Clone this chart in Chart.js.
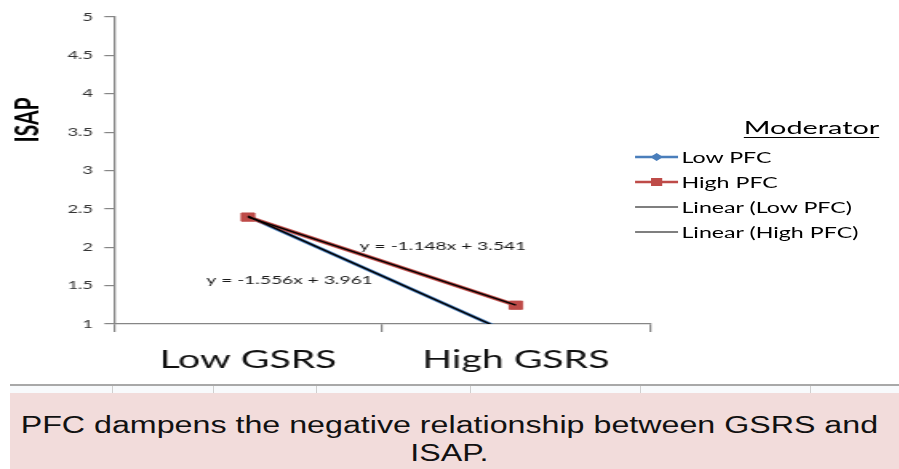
<!DOCTYPE html>
<html>
<head>
<meta charset="utf-8">
<script src="https://cdn.jsdelivr.net/npm/chart.js@4.4.1/dist/chart.umd.min.js"></script>
<style>
  html, body { margin: 0; padding: 0; background: #ffffff; }
  body { width: 899px; height: 469px; position: relative; overflow: hidden; }
  #chartWrap { position: absolute; left: 0; top: 0; width: 562px; height: 384px;
    transform: scaleX(1.5996); transform-origin: 0 0; }
  #legend { position: absolute; left: 0; top: 0; width: 562px; height: 384px; pointer-events: none;
    font-family: Lato, "DejaVu Sans", sans-serif; color: #000; }
  #legendTitle { position: absolute; left: 465px; top: 116px; font-size: 18px; text-decoration: underline;
    text-underline-offset: 3px; line-height: 22px; white-space: nowrap; }
  .legItem { position: absolute; left: 397px; height: 20px; display: flex; align-items: center;
    font-size: 14.5px; white-space: nowrap; }
  .legItem svg { width: 27px; height: 12px; margin-right: 2px; }
  #sep { position: absolute; left: 10px; top: 384px; width: 889px; height: 2px; background: #a8a8a8; }
  .vline { position: absolute; top: 386px; width: 1px; height: 7px; background: #cfcfcf; }
  #strip { position: absolute; left: 10px; top: 386px; width: 889px; height: 7px; background: #f8fafc; }
  #pink { position: absolute; left: 10px; top: 393px; width: 889px; height: 76px; background: #f2dcdb; }
  #caption { position: absolute; left: 0; top: 411px; width: 642px; transform: scaleX(1.4); transform-origin: 0 0;
    text-align: center; font-family: "Liberation Sans", Arial, sans-serif; font-size: 23px; line-height: 28px; color: #111; }
</style>
</head>
<body>
<div id="strip"></div>
<div id="sep"></div>
<div id="pink"></div>
<div id="caption">PFC dampens the negative relationship between GSRS and<br>ISAP.</div>
<div id="chartWrap">
  <canvas id="c"></canvas>
  <div id="legend"></div>
</div>
<script>
// ---- data ----
const categories = ['Low GSRS', 'High GSRS'];
const lowPFC = [2.405, 0.849];
const highPFC = [2.393, 1.245];
const lowPFCTrend = [2.405, 0.849];
const highPFCTrend = [2.393, 1.245];
const seriesNames = ['Low PFC', 'High PFC'];
const trendNames = ['Linear (Low PFC)', 'Linear (High PFC)'];
const equations = ['y = -1.556x + 3.961', 'y = -1.148x + 3.541'];
const equationAnchors = [[0.155, 1.573], [0.728, 2.016]]; // [category index, y value]
const yMin = 1, yMax = 5, yStep = 0.5;
const yTitle = 'ISAP';
const legendTitle = 'Moderator';
const tableDividers = [112, 213, 316, 470, 640, 810];

// ---- styles ----
const BLUE = '#4a7ebb', RED = '#be4b48', AXIS = '#868686';
const FONT = 'Lato, "DejaVu Sans", sans-serif';

tableDividers.forEach(x => {
  const d = document.createElement('div');
  d.className = 'vline'; d.style.left = x + 'px';
  document.body.appendChild(d);
});

const overlayPlugin = {
  id: 'overlay',
  afterDatasetsDraw(chart) {
    const ctx = chart.ctx, xs = chart.scales.x, ys = chart.scales.y;
    ctx.save();
    ctx.fillStyle = '#1a1a1a';
    ctx.font = '12px ' + FONT;
    ctx.textAlign = 'center';
    ctx.textBaseline = 'middle';
    equations.forEach((t, i) => {
      const a = equationAnchors[i];
      ctx.fillText(t, xs.getPixelForValue(a[0]), ys.getPixelForValue(a[1]));
    });
    ctx.restore();
  },
  afterDraw(chart) {
    const ctx = chart.ctx;
    ctx.save();
    ctx.translate(17.5, 120);
    ctx.rotate(-Math.PI / 2);
    ctx.font = 'bold 21px ' + FONT;
    ctx.fillStyle = '#000';
    ctx.textAlign = 'center';
    ctx.textBaseline = 'middle';
    ctx.fillText(yTitle, 0, 0);
    ctx.restore();
  }
};

new Chart(document.getElementById('c'), {
  type: 'line',
  data: {
    labels: categories,
    datasets: [
      { label: trendNames[0], data: lowPFCTrend, borderColor: '#000', borderWidth: 1.4, pointRadius: 0, order: 0, tension: 0 },
      { label: trendNames[1], data: highPFCTrend, borderColor: '#000', borderWidth: 1.4, pointRadius: 0, order: 0, tension: 0 },
      { label: seriesNames[1], data: highPFC, borderColor: RED, backgroundColor: RED, borderWidth: 3.5,
        pointStyle: 'rect', pointRadius: 5.8, pointBorderWidth: 1, order: 1, tension: 0 },
      { label: seriesNames[0], data: lowPFC, borderColor: BLUE, backgroundColor: BLUE, borderWidth: 3,
        pointStyle: 'rectRot', pointRadius: 3.2, pointBorderWidth: 0, order: 2, tension: 0 }
    ]
  },
  options: {
    responsive: true,
    maintainAspectRatio: false,
    animation: false,
    events: [],
    layout: { padding: { top: 17, left: 0, right: 155.75, bottom: 0 } },
    plugins: { legend: { display: false }, tooltip: { enabled: false } },
    scales: {
      x: {
        type: 'category',
        offset: true,
        grid: { display: true, drawOnChartArea: false, offset: true, tickLength: 8, color: AXIS, lineWidth: 1.2 },
        border: { display: true, color: AXIS, width: 1.3 },
        ticks: { color: '#111', font: { family: FONT, size: 24.5 }, padding: 13, maxRotation: 0, autoSkip: false },
        afterFit(s) { s.height = 60; }
      },
      y: {
        min: yMin, max: yMax,
        grid: { display: true, drawOnChartArea: false, tickLength: 6, color: AXIS, lineWidth: 1.2 },
        border: { display: true, color: AXIS, width: 1.3 },
        ticks: { stepSize: yStep, color: '#333', font: { family: FONT, size: 11.5 }, padding: 7,
          callback: v => String(v) },
        afterFit(s) { s.width = 71.25; }
      }
    }
  },
  plugins: [overlayPlugin]
});

// ---- HTML legend ----
const legend = document.getElementById('legend');
const t = document.createElement('div');
t.id = 'legendTitle'; t.textContent = legendTitle; legend.appendChild(t);
const items = [
  { name: seriesNames[0], color: BLUE, marker: 'diamond', w: 2.5 },
  { name: seriesNames[1], color: RED, marker: 'square', w: 2.5 },
  { name: trendNames[0], color: '#000', marker: null, w: 1.2 },
  { name: trendNames[1], color: '#000', marker: null, w: 1.2 }
];
const rowY = [147, 172, 197, 222];
items.forEach((it, i) => {
  const d = document.createElement('div');
  d.className = 'legItem';
  d.style.top = rowY[i] + 'px';
  let m = '';
  if (it.marker === 'diamond') m = `<polygon points="13.5,2 17.5,6 13.5,10 9.5,6" fill="${it.color}"/>`;
  if (it.marker === 'square') m = `<rect x="10" y="2" width="7" height="8" fill="${it.color}"/>`;
  d.innerHTML = `<svg viewBox="0 0 27 12"><line x1="0" y1="6" x2="27" y2="6" stroke="${it.color}" stroke-width="${it.w}"/>${m}</svg><span>${it.name}</span>`;
  legend.appendChild(d);
});
</script>
</body>
</html>
